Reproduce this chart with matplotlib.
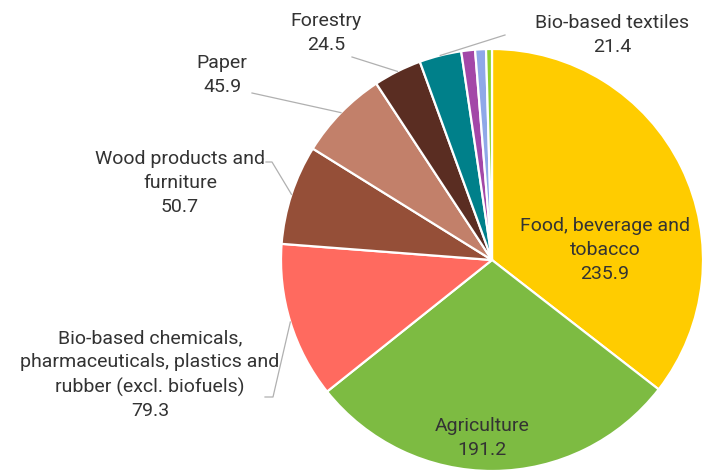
import matplotlib.pyplot as plt
import numpy as np

plt.rcParams['font.family'] = ['Roboto', 'DejaVu Sans']

# sectors, clockwise from 12 o'clock
sectors = ['Food, beverage and\ntobacco', 'Agriculture',
           'Bio-based chemicals,\npharmaceuticals, plastics and\nrubber (excl. biofuels)',
           'Wood products and\nfurniture', 'Paper', 'Forestry', 'Bio-based textiles',
           'Other 1', 'Other 2', 'Other 3']
values = [235.9, 191.2, 79.3, 50.7, 45.9, 24.5, 21.4, 7.0, 5.5, 3.0]
colors = ['#ffcc00', '#7dbb42', '#ff6a5f', '#954f38', '#c2806a', '#5a2d22',
          '#00808a', '#a347a8', '#8fa8e8', '#8fd12e']
show_label = [True, True, True, True, True, True, True, False, False, False]

W, H = 702, 471
fig = plt.figure(figsize=(W / 100, H / 100), dpi=100)
ax = fig.add_axes([0, 0, 1, 1])

cx, cy, r = 492, H - 260, 211
wedges, _ = ax.pie(values, colors=colors, startangle=90, counterclock=False,
                   center=(cx, cy), radius=r,
                   wedgeprops=dict(edgecolor='white', linewidth=1.6))
ax.set_xlim(0, W)
ax.set_ylim(0, H)
ax.set_aspect('equal')
ax.axis('off')

txt_color = '#333333'
fs = 14

def py(y):
    return H - y

# labels inside
inside = {0: (605, 250), 1: (482, 438)}
# labels outside: text centre, leader path (from text side)
outside = {
    2: ((150, 375), [(265, 397), (273, 397)]),
    3: ((180, 183), [(266, 162), (272, 162)]),
    4: ((222, 75), [(252, 93)]),
    5: ((326, 33), [(352, 57)]),
    6: ((612, 35), [(505, 35)]),
}

for i, w in enumerate(wedges):
    if not show_label[i]:
        continue
    text = f'{sectors[i]}\n{values[i]}'
    if i in inside:
        x, y = inside[i]
        ax.text(x, py(y), text, ha='center', va='center', fontsize=fs,
                color=txt_color, linespacing=1.4)
    else:
        (x, y), path = outside[i]
        ax.text(x, py(y), text, ha='center', va='center', fontsize=fs,
                color=txt_color, linespacing=1.4)
        mid = np.deg2rad((w.theta1 + w.theta2) / 2)
        ex, ey = cx + r * np.cos(mid), cy + r * np.sin(mid)
        xs = [p[0] for p in path] + [ex]
        ys = [py(p[1]) for p in path] + [ey]
        ax.plot(xs, ys, color='#b0b0b0', lw=0.9)

fig.savefig('out.png', dpi=100)
